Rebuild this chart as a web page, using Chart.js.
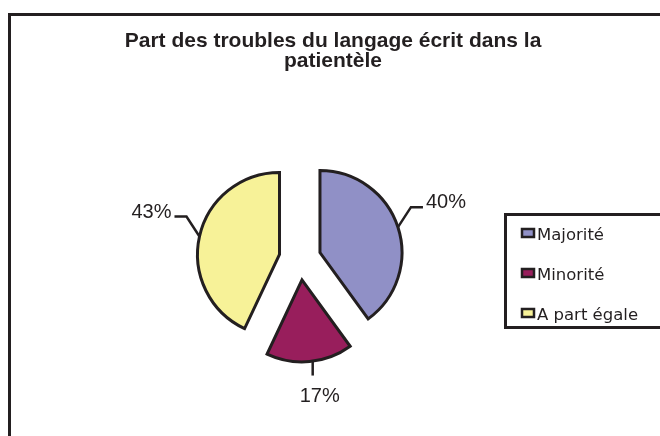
<!DOCTYPE html>
<html lang="fr">
<head>
<meta charset="utf-8">
<title>Part des troubles du langage écrit dans la patientèle</title>
<script src="https://cdn.jsdelivr.net/npm/chart.js@4.4.1/dist/chart.umd.min.js"></script>
<style>
  html, body { margin: 0; padding: 0; background: #fff; }
  #cadre { position: relative; width: 660px; height: 436px; overflow: hidden; }
  #bord { position: absolute; left: 8px; top: 13px; right: -10px; bottom: -10px;
          border-left: 3px solid #231f20; border-top: 3px solid #231f20; }
  canvas { position: absolute; left: 0; top: 0; }
</style>
</head>
<body>
<div id="cadre">
  <div id="bord"></div>
  <canvas id="graphique" width="660" height="436"></canvas>
</div>
<script>
// Données du graphique
const titre = ['Part des troubles du langage écrit dans la', 'patientèle'];
const categories = ['Majorité', 'Minorité', 'A part égale'];
const valeurs = [40, 17, 43];
const couleurs = ['#9090c6', '#981e5c', '#f7f298'];

const encre = '#231f20';

// Secteurs éclatés : on pousse chaque part vers l'extérieur
const eclatement = {
    id: 'eclatement',
    afterDatasetUpdate(chart, args, opts) {
        args.meta.data.forEach(arc => {
            const milieu = (arc.startAngle + arc.endAngle) / 2;
            arc.x += Math.cos(milieu) * opts.distance;
            arc.y += Math.sin(milieu) * opts.distance;
        });
    }
};

// Pourcentages avec traits de rappel
const etiquettes = {
    id: 'etiquettes',
    afterDatasetsDraw(chart) {
        const ctx = chart.ctx;
        const meta = chart.getDatasetMeta(0);
        const total = valeurs.reduce((a, b) => a + b, 0);
        ctx.save();
        ctx.strokeStyle = encre;
        ctx.fillStyle = encre;
        ctx.lineWidth = 2.5;
        ctx.lineJoin = 'miter';
        ctx.font = '20px "Liberation Sans", Arial, sans-serif';
        ctx.textBaseline = 'alphabetic';
        meta.data.forEach((arc, i) => {
            const milieu = (arc.startAngle + arc.endAngle) / 2;
            const cos = Math.cos(milieu);
            const sin = Math.sin(milieu);
            const bx = arc.x + cos * arc.outerRadius;
            const by = arc.y + sin * arc.outerRadius;
            const texte = Math.round(valeurs[i] / total * 100) + '%';
            ctx.beginPath();
            if (Math.abs(cos) > 0.5) {
                const sens = cos > 0 ? 1 : -1;
                const coudeX = bx + sens * 13;
                const coudeY = by - 20;
                ctx.moveTo(bx, by);
                ctx.lineTo(coudeX, coudeY);
                ctx.lineTo(coudeX + sens * 12, coudeY);
                ctx.stroke();
                ctx.textAlign = sens > 0 ? 'left' : 'right';
                ctx.fillText(texte, coudeX + sens * 15, coudeY + 1);
            } else {
                ctx.moveTo(bx + 3, by);
                ctx.lineTo(bx + 3, by + 14);
                ctx.stroke();
                ctx.textAlign = 'center';
                ctx.fillText(texte, bx + 10, by + 40);
            }
        });
        ctx.restore();
    }
};

// Titre centré sur deux lignes
const titreGraphique = {
    id: 'titreGraphique',
    afterDraw(chart) {
        const ctx = chart.ctx;
        ctx.save();
        ctx.fillStyle = encre;
        ctx.font = 'bold 21px "Liberation Sans", Arial, sans-serif';
        ctx.textAlign = 'center';
        ctx.textBaseline = 'alphabetic';
        titre.forEach((ligne, i) => ctx.fillText(ligne, 333, 47 + i * 20));
        ctx.restore();
    }
};

// Légende encadrée à droite
const legende = {
    id: 'legende',
    afterDraw(chart) {
        const ctx = chart.ctx;
        const ds = chart.data.datasets[0];
        ctx.save();
        ctx.strokeStyle = encre;
        ctx.lineWidth = 3;
        ctx.strokeRect(505.5, 214.5, 200, 113);
        ctx.font = '16.5px "DejaVu Sans", sans-serif';
        ctx.textAlign = 'left';
        ctx.textBaseline = 'alphabetic';
        chart.data.labels.forEach((nom, i) => {
            const base = 240 + i * 40;
            ctx.fillStyle = ds.backgroundColor[i];
            ctx.fillRect(522, base - 11, 12, 8);
            ctx.lineWidth = 2.5;
            ctx.strokeRect(522, base - 11, 12, 8);
            ctx.fillStyle = encre;
            ctx.fillText(nom, 537, base);
        });
        ctx.restore();
    }
};

const ctx = document.getElementById('graphique');
new Chart(ctx, {
    type: 'pie',
    data: {
        labels: categories,
        datasets: [{
            data: valeurs,
            backgroundColor: couleurs,
            borderColor: encre,
            borderWidth: 3,
            borderJoinStyle: 'miter',
            radius: 82
        }]
    },
    options: {
        responsive: false,
        animation: false,
        events: [],
        layout: {
            padding: { left: 100, right: 160, top: 100, bottom: 18 }
        },
        plugins: {
            legend: { display: false },
            tooltip: { enabled: false },
            eclatement: { distance: 21 }
        }
    },
    plugins: [eclatement, etiquettes, titreGraphique, legende]
});
</script>
</body>
</html>
